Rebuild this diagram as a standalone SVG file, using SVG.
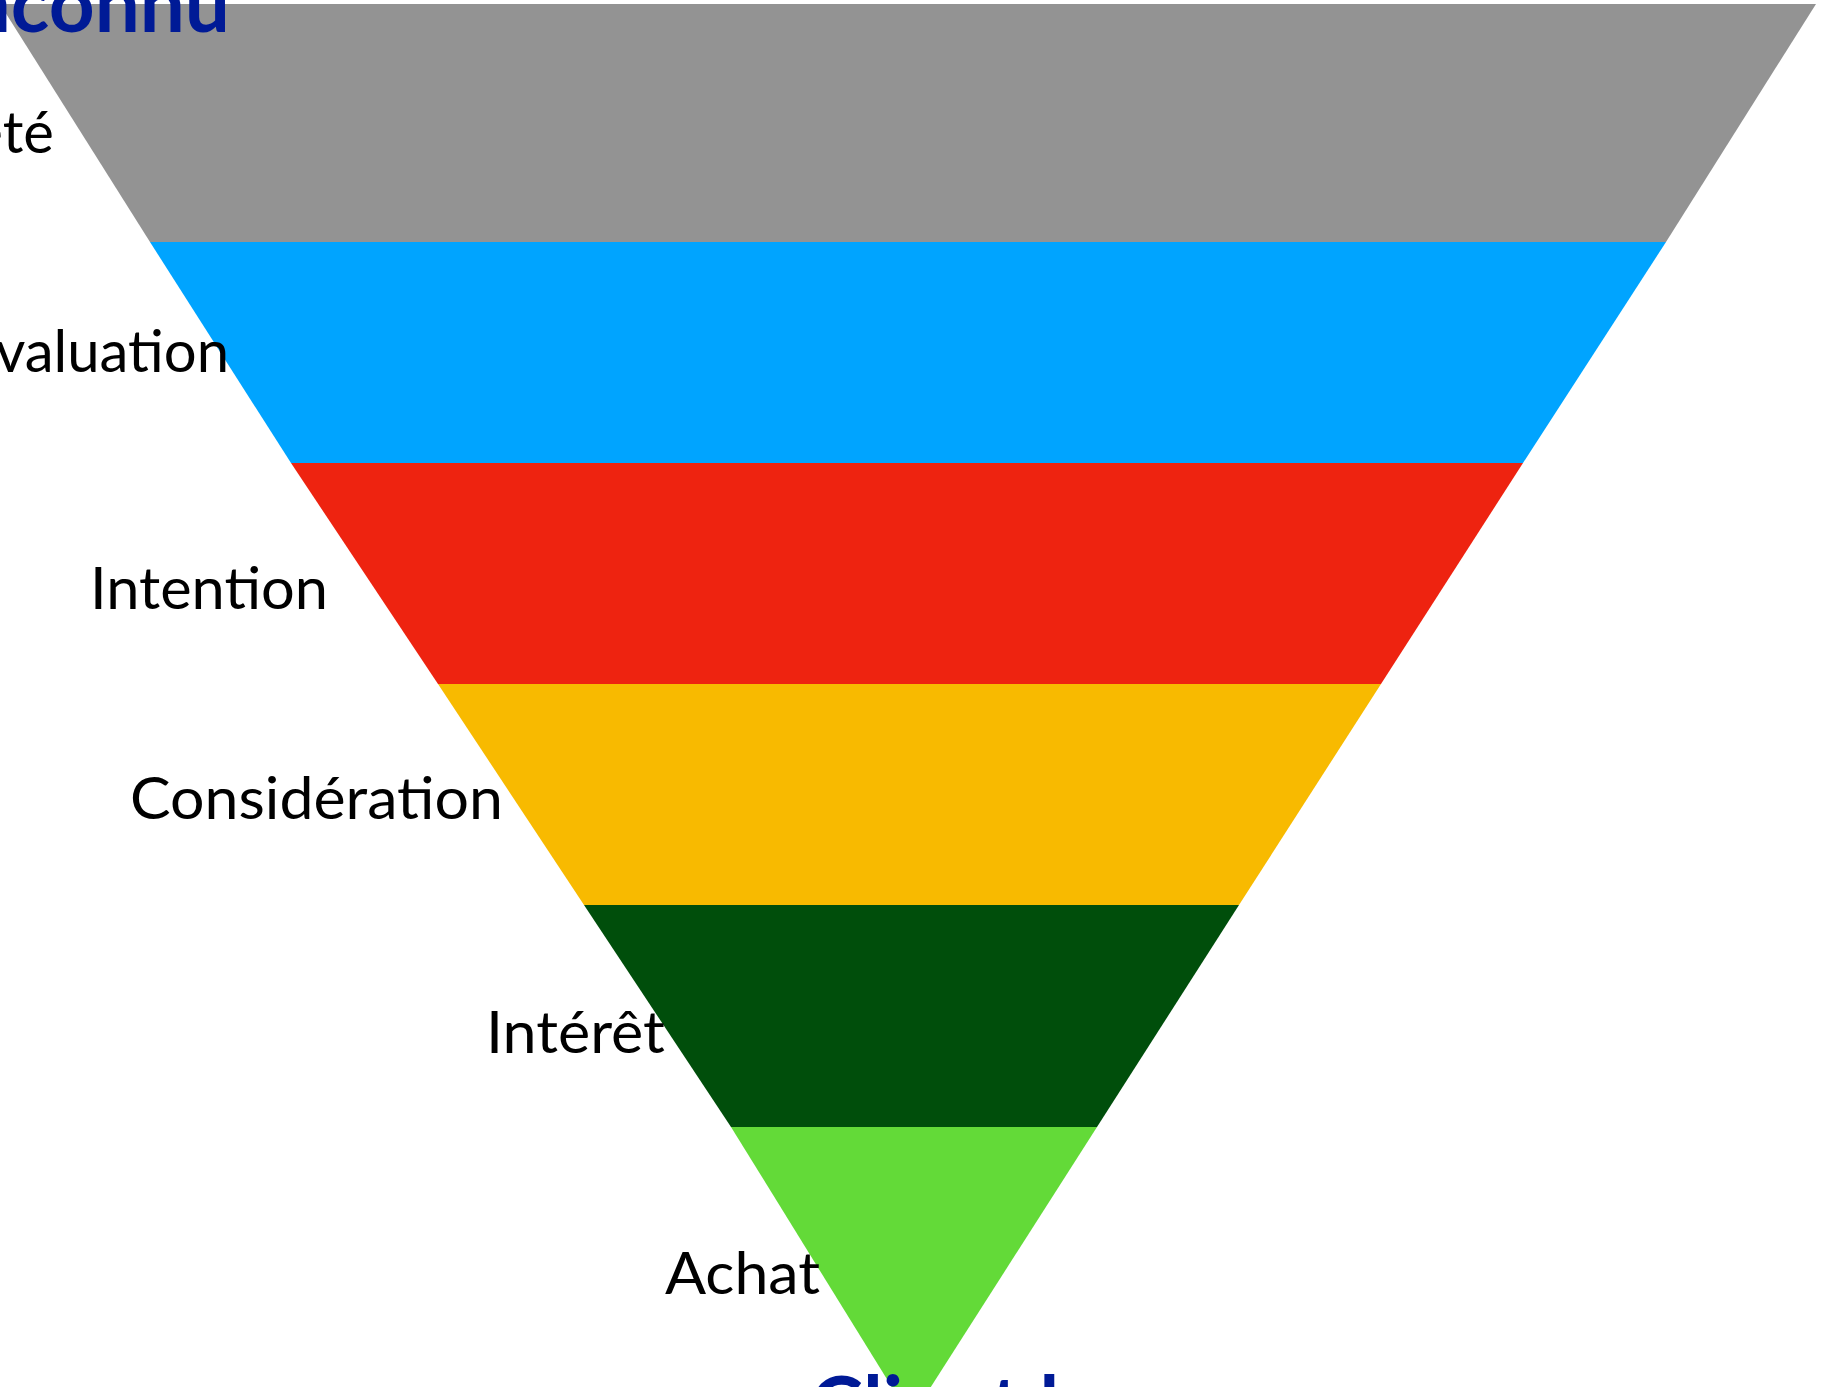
<svg xmlns="http://www.w3.org/2000/svg" width="1840" height="1387" viewBox="0 0 1840 1387">
  <style>
    .lbl { font-family: Lato, "Liberation Sans", sans-serif; font-size: 58px; fill: #000000; }
    .ttl { font-family: Lato, "Liberation Sans", sans-serif; font-size: 80px; font-weight: 700; fill: #001A96; }
  </style>
  <rect x="0" y="0" width="1840" height="1387" fill="#ffffff"/>
  <g id="connectors"></g>
  <g id="notoriete">
    <polygon points="0,4 1816,4 1666,242 150,242" fill="#939393"/>
    <text class="lbl" x="54" y="153" text-anchor="end" font-size="61">Notoriété</text>
  </g>
  <g id="evaluation">
    <polygon points="150,242 1666,242 1523,463 291,463" fill="#00A4FF"/>
    <text class="lbl" x="229" y="372" text-anchor="end">Évaluation</text>
  </g>
  <g id="intention">
    <polygon points="291,463 1523,463 1381,684 438,684" fill="#EE2310"/>
    <text class="lbl" x="90" y="609" textLength="238" lengthAdjust="spacingAndGlyphs">Intention</text>
  </g>
  <g id="consideration">
    <polygon points="438,684 1381,684 1239,905 584,905" fill="#F8BA00"/>
    <text class="lbl" x="130" y="819" textLength="373" lengthAdjust="spacingAndGlyphs">Considération</text>
  </g>
  <g id="interet">
    <polygon points="584,905 1239,905 1097,1127 731,1127" fill="#004E0B"/>
    <text class="lbl" x="486" y="1053" textLength="179" lengthAdjust="spacingAndGlyphs">Intérêt</text>
  </g>
  <g id="achat">
    <polygon points="731,1127 1097,1127 911,1418" fill="#63DA38"/>
    <text class="lbl" x="665" y="1294" textLength="155" lengthAdjust="spacingAndGlyphs">Achat</text>
  </g>
  <g id="inconnu">
    <text class="ttl" x="230" y="32" text-anchor="end">Inconnu</text>
  </g>
  <g id="client">
    <text class="ttl" x="810" y="1434">Client heureux</text>
  </g>
</svg>
